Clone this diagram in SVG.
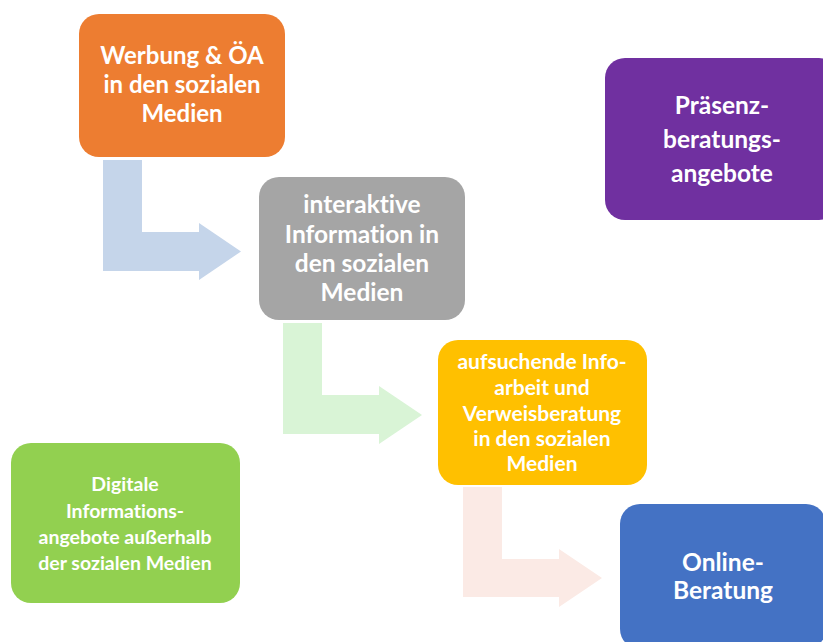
<svg xmlns="http://www.w3.org/2000/svg" width="823" height="642" viewBox="0 0 823 642">
<style>
text{font-family:Lato,"Open Sans","Liberation Sans",sans-serif;font-weight:bold;fill:#fff;text-anchor:middle;font-variant-ligatures:none;font-feature-settings:"liga" 0}
.l{font-size:24.5px}
.o{font-size:24px}
.y{font-size:21px}
.g{font-size:19.5px}
</style>
<rect width="823" height="642" fill="#fff"/>
<g id="connectors">
<path d="M103,160 H142 V232 H199 V223 L241,251.5 L199,280 V271 H103 Z" fill="#C5D5EA"/>
<path d="M283,323 H322 V395 H379 V386 L422,415 L379,444 V434 H283 Z" fill="#D9F4D6"/>
<path d="M463,487 H502 V559 H559 V549 L602,578 L559,607 V597 H463 Z" fill="#FBEAE5"/>
</g>
<g id="werbung">
<rect x="79" y="14" width="206" height="143" rx="20" fill="#ED7D31"/>
<text class="o" x="182" y="64">Werbung &amp; ÖA</text>
<text class="o" x="182" y="93">in den sozialen</text>
<text class="o" x="182" y="122">Medien</text>
</g>
<g id="interaktiv">
<rect x="259" y="177" width="206" height="143" rx="20" fill="#A5A5A5"/>
<text class="l" x="362" y="213">interaktive</text>
<text class="l" x="362" y="243">Information in</text>
<text class="l" x="362" y="272">den sozialen</text>
<text class="l" x="362" y="301">Medien</text>
</g>
<g id="aufsuchend">
<rect x="438" y="340" width="209" height="145" rx="20" fill="#FFC000"/>
<text class="y" x="542" y="369">aufsuchende Info-</text>
<text class="y" x="542" y="395">arbeit und</text>
<text class="y" x="542" y="421">Verweisberatung</text>
<text class="y" x="542" y="446">in den sozialen</text>
<text class="y" x="542" y="471">Medien</text>
</g>
<g id="online">
<rect x="620" y="504" width="206" height="145" rx="20" fill="#4472C4"/>
<text class="l" x="723" y="571">Online-</text>
<text class="l" x="723" y="599">Beratung</text>
</g>
<g id="praesenz">
<rect x="605" y="58" width="234" height="162" rx="20" fill="#7030A0"/>
<text class="l" x="722" y="114">Präsenz-</text>
<text class="l" x="722" y="148">beratungs-</text>
<text class="l" x="722" y="182">angebote</text>
</g>
<g id="digital">
<rect x="11" y="443" width="229" height="160" rx="20" fill="#92D050"/>
<text class="g" x="125" y="491">Digitale</text>
<text class="g" x="125" y="518">Informations-</text>
<text class="g" x="125" y="544">angebote außerhalb</text>
<text class="g" x="125" y="570">der sozialen Medien</text>
</g>
</svg>
